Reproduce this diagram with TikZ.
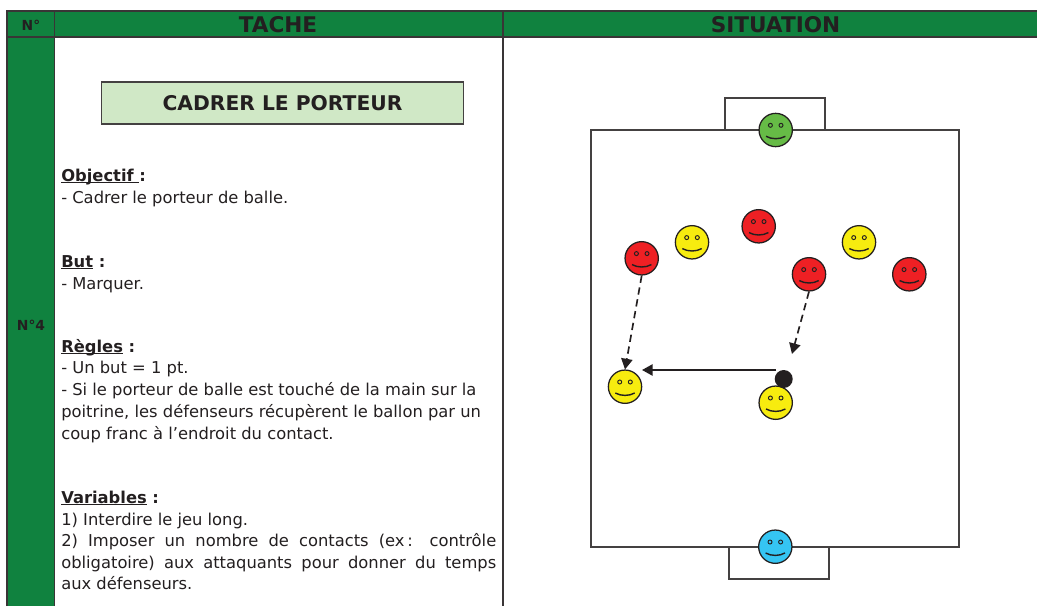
\documentclass[tikz,border=0pt]{standalone}
\usepackage{fontspec}
\setmainfont{DejaVu Sans}
\usetikzlibrary{arrows.meta}
\definecolor{hdr}{HTML}{10823F}
\definecolor{ink}{HTML}{231F20}
\definecolor{lite}{HTML}{D0E8C6}
\definecolor{fred}{HTML}{EE2024}
\definecolor{fyel}{HTML}{F7EC0F}
\definecolor{fgrn}{HTML}{66BB46}
\definecolor{fblu}{HTML}{35C5F3}
\tikzset{
  x=0.75pt,y=-0.75pt,
  rule/.style={draw=ink!90,line width=1pt},
  pitch/.style={draw=ink!85,line width=0.95pt},
  head/.style={font=\fontsize{16.2}{18}\selectfont\bfseries,text=ink,inner sep=0pt},
  small/.style={inner sep=0pt,text=ink,font=\fontsize{10.4}{12}\selectfont\bfseries},
  body/.style={anchor=base west,inner sep=0pt,text=ink,font=\fontsize{12.25}{14}\selectfont},
  facenode/.style={circle,draw=ink,line width=0.95pt,minimum size=25pt,inner sep=0pt},
  pass/.style={draw=ink,line width=1.25pt,-{Triangle[length=8pt,width=8.5pt]}},
  run/.style={pass,dash pattern=on 5.5pt off 3.5pt},
}
\newcommand{\smiley}[4]{%
  \node[facenode,fill=#4] (#1) at (#2,#3) {};
  \draw[ink,line width=0.7pt] (#2-5.3,#3-4.7) circle (2);
  \draw[ink,line width=0.7pt] (#2+5.3,#3-4.7) circle (2);
  \draw[ink,line width=1.05pt] (#2-9.7,#3+6.3) .. controls (#2-4,#3+9.5) and (#2+4,#3+9.5) .. (#2+9.7,#3+6.3);
}
\newcommand{\ulx}[1]{\setbox0\hbox{#1}\rlap{\rule[-1.5pt]{\wd0}{0.95pt}}\box0\relax}
\begin{document}
\begin{tikzpicture}
\useasboundingbox (0,0) rectangle (1037,606);
% table
\fill[hdr] (7,11) rectangle (1037,37);
\fill[hdr] (7,37) rectangle (54.5,606);
\draw[rule] (7,606) -- (7,11) -- (1037,11);
\draw[rule] (7,37) -- (1037,37);
\draw[rule] (54.5,11) -- (54.5,606);
\draw[rule] (503,11) -- (503,606);
\node[small] (hn) at (31,25) {N°};
\node[head] (ht) at (278,25) {TACHE};
\node[head] (hs) at (775.5,25) {SITUATION};
\node[small] (n4) at (31,325.5) {N°4};
\node[draw=ink!85,line width=1pt,fill=lite,minimum width=271.5pt,minimum height=31.5pt,inner sep=0pt,text=ink,font=\fontsize{15.2}{17}\selectfont\bfseries] (title) at (282.5,103) {CADRER LE PORTEUR};
% text
\node[body] (t1) at (61,181) {\textbf{\ulx{Objectif }:}};
\node[body] (t2) at (61,203) {- Cadrer le porteur de balle.};
\node[body] (t3) at (61,267) {\textbf{\ulx{But} :}};
\node[body] (t4) at (61,289) {- Marquer.};
\node[body] (t5) at (61,352) {\textbf{\ulx{Règles} :}};
\node[body] (t6) at (61,373) {- Un but = 1 pt.};
\node[body] (t7) at (61,395) {- Si le porteur de balle est touché de la main sur la};
\node[body] (t8) at (61,417) {poitrine, les défenseurs récupèrent le ballon par un};
\node[body] (t9) at (61,439) {coup franc à l’endroit du contact.};
\node[body] (t10) at (61,503) {\textbf{\ulx{Variables} :}};
\node[body] (t11) at (61,525) {1) Interdire le jeu long.};
\node[body] (t12) at (61,546) {\hbox to 326.25pt{2) Imposer un nombre de contacts (ex\,: contrôle}};
\node[body] (t13) at (61,568) {\hbox to 326.25pt{obligatoire) aux attaquants pour donner du temps}};
\node[body] (t14) at (61,589) {aux défenseurs.};
% pitch
\draw[pitch] (591,130) rectangle (959,547);
\draw[pitch] (725,130) -- (725,98) -- (825,98) -- (825,130);
\draw[pitch] (729,547) -- (729,579) -- (829,579) -- (829,547);
% players
\smiley{gk}{775.7}{130}{fgrn}
\smiley{gb}{775.3}{546.7}{fblu}
\smiley{ra}{641.7}{258.3}{fred}
\smiley{ya}{692}{242.3}{fyel}
\smiley{rb}{758.7}{226.3}{fred}
\smiley{rc}{809}{274.3}{fred}
\smiley{yb}{859}{242.3}{fyel}
\smiley{rd}{909.3}{274.3}{fred}
\smiley{yc}{625}{386.7}{fyel}
\smiley{yd}{775.7}{402.7}{fyel}
\node[circle,fill=ink,minimum size=13.5pt,inner sep=0pt] (ball) at (783.7,379) {};
\coordinate (pe) at (642,370);
\coordinate (ps) at (776,370);
\coordinate (rce) at (792,354);
\draw[pass] (ps) -- (pe);
\draw[run] (ra.south) -- (yc.north);
\draw[run] (rc.south) -- (rce);
\end{tikzpicture}
\end{document}
